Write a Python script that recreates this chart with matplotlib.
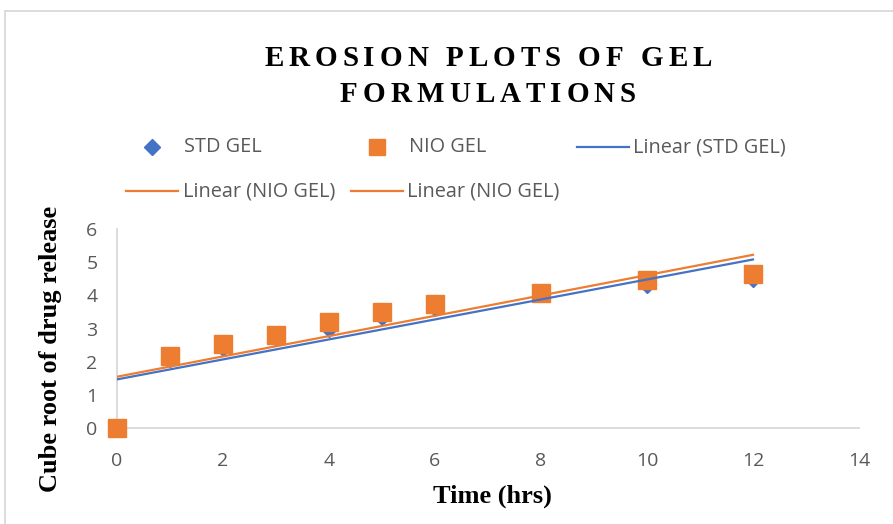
import numpy as np
import matplotlib
matplotlib.use("Agg")
import matplotlib.pyplot as plt
from matplotlib.lines import Line2D

# ---- data ----
time_hrs = [0, 1, 2, 3, 4, 5, 6, 8, 10, 12]
std_gel = [0.0, 2.07, 2.40, 2.70, 3.00, 3.36, 3.63, 4.08, 4.30, 4.48]
nio_gel = [0.0, 2.17, 2.53, 2.80, 3.19, 3.49, 3.73, 4.07, 4.46, 4.64]
x_ticks = [0, 2, 4, 6, 8, 10, 12, 14]
y_ticks = [0, 1, 2, 3, 4, 5, 6]
title_lines = ["EROSION PLOTS OF GEL", "FORMULATIONS"]
legend_labels = ["STD GEL", "NIO GEL", "Linear (STD GEL)", "Linear (NIO GEL)", "Linear (NIO GEL)"]

BLUE = "#4472C4"
ORANGE = "#ED7D31"
GRAY_TXT = "#595959"
AX_GRAY = "#D9D9D9"

W, H = 893, 524
fig = plt.figure(figsize=(W / 100, H / 100), dpi=100)

def fx(px):
    return px / W

def fy(py):
    return 1 - py / H

ax = fig.add_axes([fx(117), fy(428), fx(859) - fx(117), fy(229) - fy(428)])
ax.set_xlim(0, 14)
ax.set_ylim(0, 6)
for s in ["top", "right"]:
    ax.spines[s].set_visible(False)
for s in ["left", "bottom"]:
    ax.spines[s].set_color(AX_GRAY)
    ax.spines[s].set_linewidth(1.3)
ax.set_xticks(x_ticks)
ax.set_yticks(y_ticks)
ax.tick_params(length=0, labelsize=14, labelcolor=GRAY_TXT)
ax.tick_params(axis="x", pad=17)
ax.tick_params(axis="y", pad=14)
for lab in ax.get_xticklabels() + ax.get_yticklabels():
    lab.set_family("Open Sans")

t = np.array(time_hrs, dtype=float)
ax.plot(t, std_gel, linestyle="none", marker="D", markersize=8, color=BLUE,
        clip_on=False, zorder=3)
ax.plot(t, nio_gel, linestyle="none", marker="s", markersize=12.5, color=ORANGE,
        clip_on=False, zorder=4)

xs = np.array([t.min(), t.max()])
ps = np.polyfit(t, std_gel, 1)
pn = np.polyfit(t, nio_gel, 1)
ax.plot(xs, np.polyval(ps, xs), color=BLUE, lw=1.6, zorder=5)
ax.plot(xs, np.polyval(pn, xs), color=ORANGE, lw=1.6, zorder=6)

# ---- letter-spaced title ----
fig.canvas.draw()
renderer = fig.canvas.get_renderer()

def spaced_text(s, cx, cy, spacing_px, **kw):
    widths = []
    for ch in s:
        if ch == " ":
            tt = fig.text(0, 0, "a a", **kw)
            w1 = tt.get_window_extent(renderer).width
            tt.remove()
            tt = fig.text(0, 0, "aa", **kw)
            w2 = tt.get_window_extent(renderer).width
            tt.remove()
            widths.append(w1 - w2)
        else:
            tt = fig.text(0, 0, ch, **kw)
            widths.append(tt.get_window_extent(renderer).width)
            tt.remove()
    total = sum(widths) + spacing_px * (len(s) - 1)
    x = cx - total / 2
    for ch, w in zip(s, widths):
        if ch != " ":
            fig.text(fx(x), fy(cy), ch, ha="left", va="center", **kw)
        x += w + spacing_px

title_kw = dict(family="Liberation Serif", fontweight="bold", fontsize=21, color="#000000")
spaced_text(title_lines[0], 488, 58, 5.0, **title_kw)
spaced_text(title_lines[1], 488, 94, 5.0, **title_kw)

# ---- legend (manual, Excel-style flow) ----
leg_kw = dict(family="Open Sans", fontsize=14.3, color=GRAY_TXT, va="center", ha="left")
r1, r2 = 147, 191
fig.add_artist(Line2D([fx(152)], [fy(r1)], marker="D", markersize=8, color=BLUE,
                      linestyle="none", transform=fig.transFigure))
fig.text(fx(184), fy(r1), legend_labels[0], **leg_kw)
fig.add_artist(Line2D([fx(377)], [fy(r1)], marker="s", markersize=12, color=ORANGE,
                      linestyle="none", transform=fig.transFigure))
fig.text(fx(409), fy(r1), legend_labels[1], **leg_kw)
fig.add_artist(Line2D([fx(577), fx(629)], [fy(r1), fy(r1)], color=BLUE, lw=1.6,
                      transform=fig.transFigure))
fig.text(fx(633), fy(r1), legend_labels[2], **leg_kw)
fig.add_artist(Line2D([fx(126), fx(178)], [fy(r2), fy(r2)], color=ORANGE, lw=1.6,
                      transform=fig.transFigure))
fig.text(fx(183), fy(r2), legend_labels[3], **leg_kw)
fig.add_artist(Line2D([fx(351), fx(403)], [fy(r2), fy(r2)], color=ORANGE, lw=1.6,
                      transform=fig.transFigure))
fig.text(fx(407), fy(r2), legend_labels[4], **leg_kw)

# ---- axis titles ----
fig.text(fx(51), fy(349), "Cube root of drug release", rotation=90, ha="center", va="center",
         family="Liberation Serif", fontweight="bold", fontsize=19, color="#000000")
fig.text(fx(492), fy(496), "Time (hrs)", ha="center", va="center",
         family="Liberation Serif", fontweight="bold", fontsize=19, color="#000000")

# ---- chart border ----
fig.add_artist(Line2D([fx(5), fx(893)], [fy(11), fy(11)], color=AX_GRAY, lw=1.3,
                      transform=fig.transFigure))
fig.add_artist(Line2D([fx(5), fx(5)], [fy(11), fy(524)], color=AX_GRAY, lw=1.3,
                      transform=fig.transFigure))

fig.savefig("out.png", dpi=100)
